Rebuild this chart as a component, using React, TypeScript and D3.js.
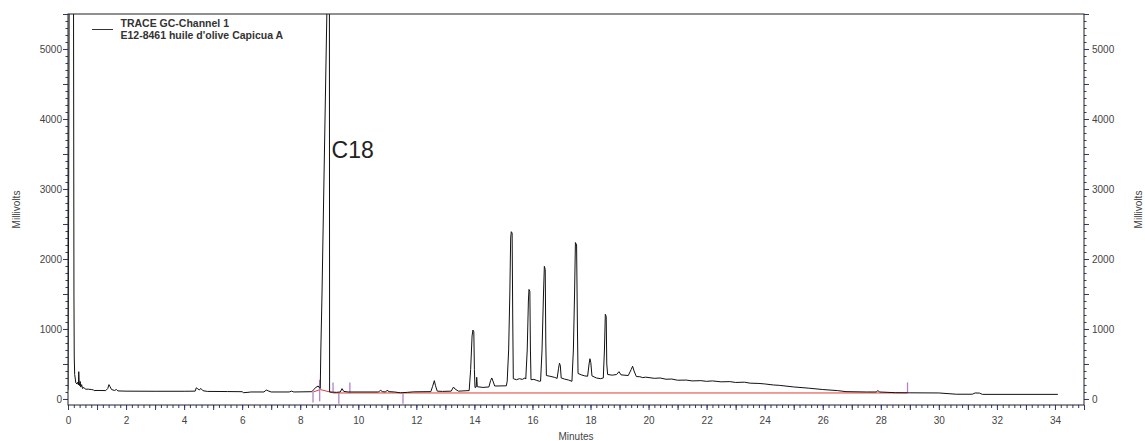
import React, { useEffect, useRef } from "react";
import * as d3 from "d3";

type Pt = [number, number];

// trace: [minutes, millivolts]
const solventFront: Pt[] = [
  [0, 130], [0.02, 2500], [0.04, 5800], [0.19, 5800], [0.205, 1500], [0.215, 600],
  [0.23, 350], [0.27, 230], [0.31, 215], [0.34, 240], [0.36, 200], [0.37, 390],
  [0.385, 240], [0.4, 190], [0.42, 250], [0.44, 170], [0.47, 205], [0.5, 150],
  [0.55, 165], [0.6, 140], [0.7, 140], [0.8, 135], [0.88, 130], [0.9, 120],
];

const earlyBaseline: Pt[] = [
  [1.0, 122], [1.3, 120], [1.37, 150], [1.41, 205], [1.45, 175], [1.5, 135],
  [1.6, 122], [1.67, 135], [1.72, 115], [2.0, 112], [3.0, 110], [4.0, 110],
  [4.38, 112], [4.42, 160], [4.47, 145], [4.52, 130], [4.58, 150], [4.65, 118],
  [4.8, 108], [5.5, 106], [6.0, 104], [6.04, 90], [6.2, 95], [6.3, 100],
  [6.75, 100], [6.83, 128], [6.92, 112], [7.0, 100], [7.62, 100], [7.7, 112],
  [7.78, 100], [8.4, 104], [8.48, 140], [8.55, 170], [8.62, 185], [8.66, 160],
];

const c18Peak: Pt[] = [
  [8.69, 150], [8.71, 700], [8.75, 1500], [8.8, 2700], [8.85, 3900], [8.9, 5100],
  [8.93, 5800], [9.005, 5800], [9.012, 100], [9.1, 98], [9.25, 95], [9.38, 100],
  [9.44, 148], [9.5, 108], [9.65, 100], [10.7, 100], [10.76, 125], [10.84, 104],
  [10.94, 100], [10.99, 125], [11.06, 105], [11.25, 100], [11.45, 88], [11.7, 95],
  [11.9, 102], [12.5, 105],
];

const fattyAcids: Pt[] = [
  [12.56, 180], [12.62, 262], [12.66, 190], [12.72, 112], [12.9, 108], [13.2, 112],
  [13.28, 170], [13.34, 140], [13.45, 112], [13.82, 120], [13.87, 420], [13.92, 900],
  [13.95, 985], [13.98, 960], [14.0, 420], [14.02, 165], [14.06, 170], [14.08, 310],
  [14.1, 175], [14.3, 165], [14.5, 172], [14.56, 265], [14.6, 300], [14.64, 255],
  [14.7, 185], [15.1, 188], [15.13, 255], [15.18, 700], [15.22, 1500], [15.25, 2300],
  [15.27, 2390], [15.3, 2370], [15.32, 1200], [15.34, 290], [15.45, 275], [15.55, 290],
  [15.65, 280], [15.74, 300], [15.77, 285], [15.82, 700], [15.86, 1400], [15.88, 1565],
  [15.91, 1540], [15.93, 700], [15.95, 275], [16.05, 280], [16.15, 265], [16.25, 252],
  [16.28, 255], [16.33, 700], [16.38, 1500], [16.41, 1895], [16.44, 1850], [16.46, 800],
  [16.48, 335], [16.6, 325], [16.75, 310], [16.85, 295], [16.9, 440], [16.93, 510],
  [16.96, 480], [16.99, 300], [17.1, 285], [17.25, 270], [17.36, 252], [17.41, 700],
  [17.45, 1500], [17.48, 2235], [17.52, 2200], [17.55, 1000], [17.57, 365], [17.68, 345],
  [17.8, 330], [17.9, 325], [17.95, 500], [17.98, 575], [18.01, 520], [18.05, 330],
  [18.2, 300], [18.35, 290], [18.44, 300], [18.48, 700], [18.51, 1210], [18.54, 1180],
  [18.56, 500], [18.59, 350], [18.75, 340], [18.9, 350], [18.98, 390], [19.05, 345],
  [19.3, 335], [19.4, 420], [19.45, 468], [19.5, 400], [19.58, 320],
];

const lateTail: Pt[] = [
  [19.7, 318], [19.8, 305], [19.9, 312], [20.2, 295], [20.4, 300], [20.6, 282],
  [20.8, 285], [21.0, 268], [21.3, 270], [21.5, 258], [21.8, 262], [22.0, 252],
  [22.2, 258], [22.5, 245], [22.8, 248], [23.0, 236], [23.3, 240], [23.5, 226],
  [23.8, 222], [24.0, 215], [24.3, 200], [24.5, 195], [25.0, 172], [25.5, 155],
  [26.0, 135], [26.5, 120], [26.8, 105], [27.5, 100], [27.85, 100], [27.9, 122],
  [27.95, 100], [28.5, 90], [29.0, 88], [30.0, 86], [30.6, 68], [31.15, 68],
  [31.25, 86], [31.4, 84], [31.5, 66], [34.1, 66],
];

// integration baseline (red)
const integrationBaseline: Pt[] = [
  [8.45, 100], [8.69, 135], [9.15, 86], [28.92, 86],
];

// integration event markers (purple)
const eventMinutes = [8.44, 8.67, 9.13, 9.33, 9.71, 11.54, 28.92];
const eventTop = [108, 275, 235, 86, 235, 76, 237];
const eventBottom = [-49, -34, 88, -67, 80, -67, 88];

const yLabelTicks = [0, 1000, 2000, 3000, 4000, 5000];
const xLabelTicks = [0, 2, 4, 6, 8, 10, 12, 14, 16, 18, 20, 22, 24, 26, 28, 30, 32, 34];

const legendLines = ["TRACE GC-Channel 1", "E12-8461 huile d'olive Capicua A"];
const peakLabel = "C18";
const peakLabelMinute = 9.08;

const W = 1145;
const H = 441;
const margin = { top: 14, right: 61, bottom: 36, left: 68 };
const FONT = "'Liberation Sans', Arial, sans-serif";
const TICK = "#2b3a7e";

export default function App() {
  const svgRef = useRef<SVGSVGElement>(null);

  useEffect(() => {
    const svg = d3.select(svgRef.current);
    svg.selectAll("*").remove();

    const x = d3.scaleLinear().domain([0, 35]).range([margin.left, W - margin.right]);
    const y = d3.scaleLinear().domain([-86, 5500]).range([H - margin.bottom, margin.top]);
    const [x0, x1] = x.range();
    const [y0, y1] = y.range();

    svg
      .append("defs")
      .append("clipPath")
      .attr("id", "plot-clip")
      .append("rect")
      .attr("x", x0)
      .attr("y", y1)
      .attr("width", x1 - x0)
      .attr("height", y0 - y1);

    const line = d3
      .line<Pt>()
      .x((d) => x(d[0]))
      .y((d) => y(d[1]));

    const trace = [...solventFront, ...earlyBaseline, ...c18Peak, ...fattyAcids, ...lateTail];
    const plot = svg.append("g").attr("clip-path", "url(#plot-clip)");

    plot
      .append("path")
      .datum(integrationBaseline)
      .attr("d", line)
      .attr("fill", "none")
      .attr("stroke", "#e53b2e")
      .attr("stroke-width", 1);

    plot
      .selectAll(".event")
      .data(eventMinutes)
      .join("line")
      .attr("class", "event")
      .attr("x1", (d) => x(d))
      .attr("x2", (d) => x(d))
      .attr("y1", (_, i) => y(eventTop[i]))
      .attr("y2", (_, i) => y(eventBottom[i]))
      .attr("stroke", "#b77fcb")
      .attr("stroke-width", 1.3);

    plot
      .append("path")
      .datum(trace)
      .attr("d", line)
      .attr("fill", "none")
      .attr("stroke", "#111")
      .attr("stroke-width", 1);

    // ticks
    const styleTicks = (g: any) => {
      g.select(".domain").remove();
      g.selectAll("line").attr("stroke", TICK);
    };
    const minorY = d3.range(0, 56).map((i) => i * 100);
    const majorY = d3.range(0, 12).map((i) => i * 500);
    const minorX = d3.range(0, 176).map((i) => i / 5);
    const majorX = d3.range(0, 36);

    const addAxis = (axis: any, tx: number, ty: number) =>
      svg.append("g").attr("transform", `translate(${tx},${ty})`).call(axis).call(styleTicks);

    addAxis(d3.axisLeft(y).tickValues(minorY).tickSize(2.5).tickFormat(() => ""), x0, 0);
    addAxis(d3.axisLeft(y).tickValues(majorY).tickSize(5).tickFormat(() => ""), x0, 0);
    addAxis(d3.axisRight(y).tickValues(minorY).tickSize(2.5).tickFormat(() => ""), x1, 0);
    addAxis(d3.axisRight(y).tickValues(majorY).tickSize(5).tickFormat(() => ""), x1, 0);
    addAxis(d3.axisBottom(x).tickValues(minorX).tickSize(3).tickFormat(() => ""), 0, y0);
    addAxis(d3.axisBottom(x).tickValues(majorX).tickSize(5).tickFormat(() => ""), 0, y0);

    const labelAxis = (axis: any, tx: number, ty: number) => {
      const g = addAxis(axis, tx, ty);
      g.selectAll("text").attr("fill", "#444").style("font-size", "10px").style("font-family", FONT);
      g.selectAll("line").remove();
    };
    labelAxis(d3.axisLeft(y).tickValues(yLabelTicks).tickSize(0).tickPadding(6).tickFormat(d3.format("d")), x0, 0);
    labelAxis(d3.axisRight(y).tickValues(yLabelTicks).tickSize(0).tickPadding(8).tickFormat(d3.format("d")), x1, 0);
    labelAxis(d3.axisBottom(x).tickValues(xLabelTicks).tickSize(0).tickPadding(12).tickFormat(d3.format("d")), 0, y0);

    // frame
    svg
      .append("rect")
      .attr("x", x0)
      .attr("y", y1)
      .attr("width", x1 - x0)
      .attr("height", y0 - y1)
      .attr("fill", "none")
      .attr("stroke", "#222")
      .attr("stroke-width", 1);

    // axis titles
    svg
      .append("text")
      .attr("x", (x0 + x1) / 2)
      .attr("y", 440)
      .attr("text-anchor", "middle")
      .attr("fill", "#444")
      .style("font-size", "10px")
      .style("font-family", FONT)
      .text("Minutes");

    [16, 1138].forEach((tx) =>
      svg
        .append("text")
        .attr("transform", `translate(${tx},${(y0 + y1) / 2}) rotate(-90)`)
        .attr("text-anchor", "middle")
        .attr("dy", "0.35em")
        .attr("fill", "#444")
        .style("font-size", "10px")
        .style("font-family", FONT)
        .text("Millivolts")
    );

    // legend
    svg
      .append("line")
      .attr("x1", 92)
      .attr("x2", 113)
      .attr("y1", 29.5)
      .attr("y2", 29.5)
      .attr("stroke", "#333");
    svg
      .selectAll(".legend")
      .data(legendLines)
      .join("text")
      .attr("class", "legend")
      .attr("x", 120.5)
      .attr("y", (_, i) => 26.5 + i * 12.5)
      .attr("fill", "#333")
      .style("font-size", "10.5px")
      .style("font-weight", "bold")
      .style("font-family", FONT)
      .text((d) => d);

    // peak label
    svg
      .append("text")
      .attr("x", x(peakLabelMinute))
      .attr("y", 157.5)
      .attr("fill", "#222")
      .style("font-size", "23px")
      .style("font-family", FONT)
      .text(peakLabel);
  }, []);

  return (
    <svg
      ref={svgRef}
      width={W}
      height={H}
      style={{ position: "absolute", left: 0, top: 0, background: "#fff" }}
    />
  );
}
